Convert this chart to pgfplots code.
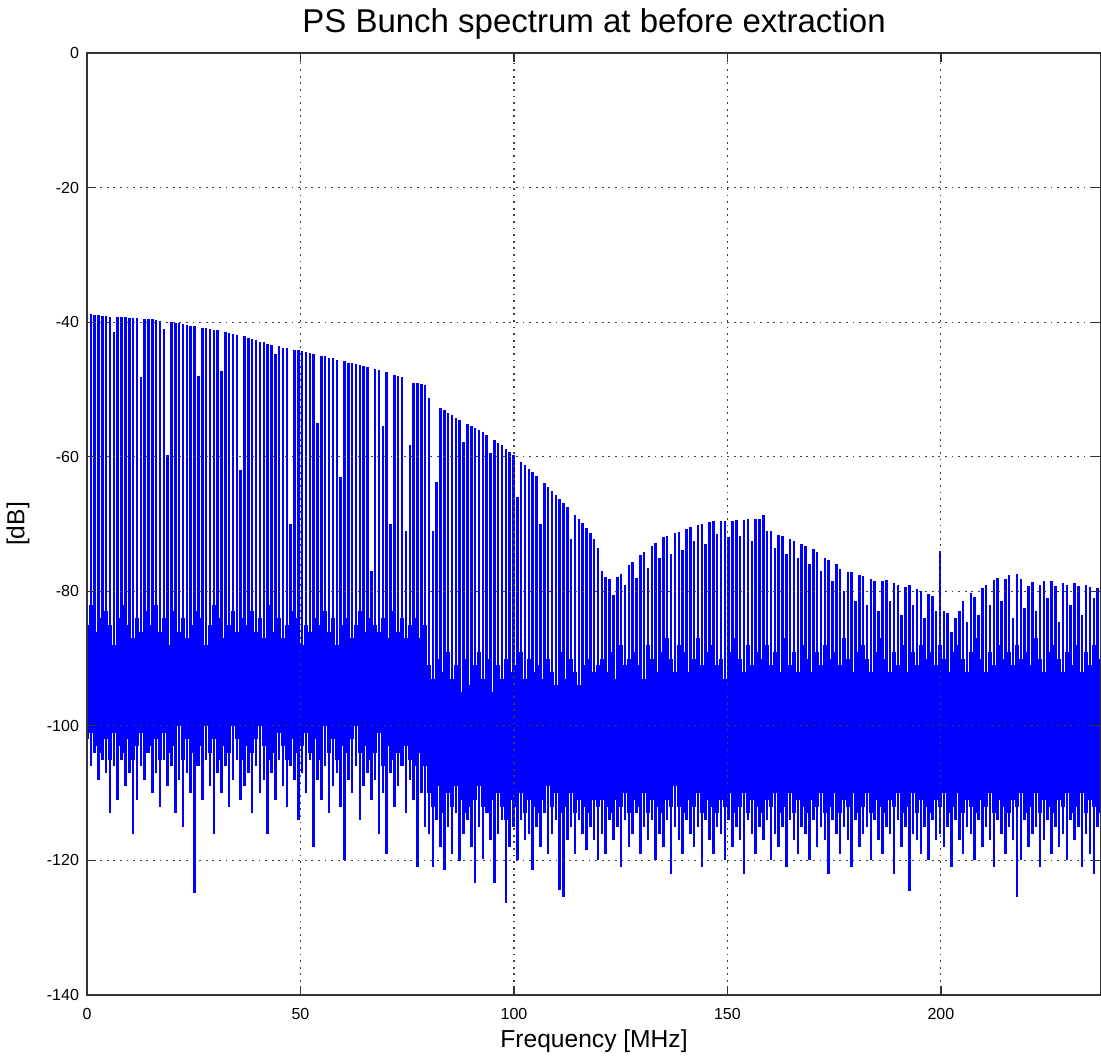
\documentclass[border=0pt]{standalone}
\usepackage{fontspec}
\setmainfont{Liberation Sans}
\usepackage{pgfplots}
\pgfplotsset{compat=1.18}
\usepackage{pgfplotstable}

% Harmonic lines of the bunch spectrum: frequency [MHz], line top (pk) and
% line foot (lo) in dB, plus the top (gt) and bottom (gb) of the noise floor
% around each line.
\pgfplotstableread{
x pk lo gt gb
0 -38.6 -103 -85 -102
0.9 -38.8 -106 -82 -101
1.8 -38.9 -104 -86 -103
2.7 -39.0 -108 -84 -100
3.6 -39.1 -105 -87 -104
4.5 -39.1 -107 -83 -102
5.4 -39.2 -113 -85 -105
6.3 -41.5 -106 -88 -101
7.2 -39.3 -111 -84 -103
8.1 -39.3 -105 -86 -100
9.0 -39.3 -109 -82 -104
9.9 -39.4 -107 -85 -102
10.8 -39.4 -116 -87 -105
11.7 -39.4 -111 -84 -103
12.6 -48.2 -106 -86 -101
13.5 -39.5 -108 -83 -104
14.4 -39.6 -104 -87 -100
15.3 -39.6 -110 -85 -103
16.2 -39.7 -107 -82 -102
17.1 -39.8 -112 -86 -105
18.0 -41.0 -105 -84 -101
18.9 -59.8 -109 -88 -104
19.8 -40.0 -106 -85 -102
20.7 -40.1 -113 -83 -103
21.6 -40.2 -108 -86 -100
22.5 -40.3 -115 -84 -105
23.4 -40.4 -107 -87 -102
24.3 -40.5 -110 -85 -104
25.2 -40.6 -124.8 -83 -106
26.1 -48.0 -106 -86 -101
27.0 -40.8 -111 -84 -103
27.9 -40.9 -105 -88 -100
28.8 -41.0 -109 -85 -104
29.7 -41.1 -116 -82 -102
30.6 -41.2 -107 -86 -105
31.5 -47.3 -110 -84 -101
32.4 -41.5 -106 -87 -103
33.3 -41.6 -112 -85 -104
34.2 -41.7 -108 -83 -100
35.1 -41.9 -105 -86 -102
36.0 -62.0 -111 -84 -105
36.9 -42.1 -109 -88 -103
37.8 -42.3 -107 -85 -101
38.7 -42.5 -113 -83 -104
39.6 -42.7 -106 -86 -102
40.5 -42.9 -110 -84 -100
41.4 -43.0 -108 -87 -103
42.3 -43.2 -116 -85 -105
43.2 -43.4 -107 -82 -102
44.1 -44.8 -111 -86 -104
45.0 -43.6 -105 -84 -101
45.9 -43.8 -109 -87 -103
46.8 -43.9 -112 -85 -105
47.7 -70.0 -106 -83 -100
48.6 -44.1 -108 -86 -102
49.5 -44.2 -114 -84 -104
50.4 -44.3 -107 -88 -103
51.3 -44.5 -110 -85 -101
52.2 -44.6 -105 -86 -104
53.1 -44.7 -118 -84 -102
54.0 -55.0 -108 -87 -105
54.9 -45.0 -111 -85 -103
55.8 -45.1 -106 -83 -100
56.7 -45.3 -113 -86 -104
57.6 -45.4 -109 -84 -102
58.5 -45.6 -107 -88 -105
59.4 -63.0 -112 -85 -101
60.3 -45.8 -120 -86 -103
61.2 -46.0 -108 -84 -104
62.1 -46.1 -110 -87 -102
63.0 -46.2 -106 -85 -100
63.9 -46.3 -114 -83 -104
64.8 -46.5 -109 -86 -103
65.7 -46.6 -107 -84 -105
66.6 -77.0 -111 -88 -102
67.5 -46.9 -108 -85 -104
68.4 -47.1 -116 -86 -101
69.3 -55.4 -110 -84 -106
70.2 -47.4 -119 -87 -103
71.1 -70.0 -107 -85 -105
72.0 -47.9 -112 -83 -102
72.9 -48.0 -109 -86 -104
73.8 -48.2 -106 -84 -106
74.7 -71.0 -113 -87 -103
75.6 -58.2 -108 -85 -105
76.5 -49.0 -111 -86 -104
77.4 -49.1 -121 -84 -106
78.3 -49.2 -110 -87 -104
79.2 -49.3 -115 -85 -106
80.1 -51.3 -116 -91 -110
81.0 -71.0 -121 -93 -112
81.9 -63.7 -114 -90 -109
82.8 -52.7 -118 -94 -111
83.7 -53.1 -121.4 -92 -113
84.6 -53.5 -115 -89 -110
85.5 -53.8 -119 -93 -112
86.4 -54.2 -113 -91 -109
87.3 -54.5 -120.1 -95 -111
88.2 -57.8 -116 -90 -113
89.1 -55.1 -114 -92 -110
90.0 -55.4 -118 -94 -112
90.9 -55.7 -123.3 -91 -111
91.8 -56.0 -115 -89 -109
92.7 -56.4 -119.8 -93 -112
93.6 -56.7 -113 -90 -110
94.5 -59.5 -117 -92 -113
95.4 -57.5 -123.3 -95 -111
96.3 -57.9 -116 -91 -110
97.2 -58.3 -114 -93 -112
98.1 -58.8 -126.3 -90 -114
99.0 -59.3 -118 -92 -111
99.9 -59.8 -115 -94 -109
100.8 -66.0 -120 -91 -112
101.7 -60.8 -114 -89 -110
102.6 -61.3 -117 -93 -113
103.5 -61.8 -116 -90 -111
104.4 -62.3 -121.4 -92 -112
105.3 -62.8 -115 -95 -110
106.2 -70.0 -118 -91 -113
107.1 -63.9 -113 -93 -111
108.0 -64.5 -119 -90 -109
108.9 -65.1 -116 -92 -112
109.8 -65.7 -114 -94 -110
110.7 -66.3 -124.4 -91 -113
111.6 -66.9 -125.4 -89 -111
112.5 -67.5 -117 -93 -112
113.4 -72.3 -115 -90 -110
114.3 -68.7 -119 -92 -113
115.2 -69.3 -114 -94 -111
116.1 -69.9 -116 -91 -112
117.0 -70.6 -118.4 -93 -110
117.9 -71.4 -115 -90 -113
118.8 -72.3 -117 -92 -111
119.7 -73.5 -120 -91 -112
120.6 -77.0 -116 -90 -111
121.5 -77.9 -119 -92 -112
122.4 -78.2 -114 -89 -110
123.3 -80.5 -117 -91 -113
124.2 -77.9 -115 -93 -111
125.1 -77.4 -121 -88 -112
126.0 -79.0 -114 -91 -110
126.9 -76.1 -118 -90 -113
127.8 -75.6 -116 -92 -111
128.7 -78.0 -113 -89 -109
129.6 -74.6 -119 -91 -112
130.5 -74.1 -115 -93 -110
131.4 -76.5 -117 -88 -113
132.3 -73.2 -114 -90 -111
133.2 -72.8 -120 -92 -112
134.1 -75.0 -116 -89 -110
135.0 -72.0 -118 -91 -113
135.9 -71.8 -114 -87 -111
136.8 -74.5 -122 -90 -112
137.7 -71.4 -115 -92 -109
138.6 -71.2 -117 -88 -112
139.5 -73.9 -119 -91 -110
140.4 -70.7 -114 -89 -113
141.3 -70.5 -116 -92 -111
142.2 -72.5 -118 -90 -112
143.1 -70.1 -115 -87 -110
144.0 -70.0 -121 -91 -113
144.9 -73.0 -114 -89 -111
145.8 -69.7 -117 -92 -112
146.7 -69.6 -119 -88 -110
147.6 -71.5 -115 -91 -113
148.5 -69.5 -116 -90 -111
149.4 -69.5 -120 -93 -112
150.3 -72.0 -114 -89 -110
151.2 -69.5 -118 -91 -113
152.1 -69.4 -115 -87 -111
153.0 -71.8 -117 -90 -112
153.9 -69.4 -122 -92 -110
154.8 -69.3 -114 -88 -113
155.7 -72.5 -116 -91 -111
156.6 -69.3 -119 -89 -112
157.5 -69.2 -115 -92 -110
158.4 -68.6 -117 -90 -113
159.3 -71.0 -114 -88 -111
160.2 -71.1 -120 -91 -112
161.1 -73.5 -116 -89 -110
162.0 -71.6 -118 -92 -113
162.9 -71.8 -115 -87 -111
163.8 -74.5 -121 -90 -112
164.7 -72.3 -114 -91 -110
165.6 -72.5 -117 -89 -113
166.5 -75.0 -119 -92 -111
167.4 -73.0 -115 -88 -112
168.3 -73.2 -116 -91 -110
169.2 -76.0 -120 -90 -113
170.1 -73.7 -114 -92 -111
171.0 -74.1 -118 -89 -112
171.9 -77.0 -115 -91 -110
172.8 -75.0 -117 -88 -113
173.7 -75.4 -122 -90 -111
174.6 -78.5 -114 -92 -112
175.5 -75.9 -116 -89 -110
176.4 -76.7 -119 -91 -113
177.3 -80.0 -115 -87 -111
178.2 -77.1 -117 -90 -112
179.1 -77.2 -121 -92 -110
180.0 -81.5 -114 -89 -113
180.9 -77.6 -118 -91 -111
181.8 -77.8 -116 -88 -112
182.7 -82.0 -115 -90 -110
183.6 -78.2 -120 -92 -113
184.5 -78.4 -114 -89 -111
185.4 -83.0 -117 -91 -112
186.3 -78.5 -119 -87 -110
187.2 -78.3 -115 -90 -113
188.1 -81.5 -116 -92 -111
189.0 -78.8 -122 -89 -112
189.9 -79.0 -114 -91 -110
190.8 -83.5 -118 -88 -113
191.7 -79.3 -115 -90 -111
192.6 -79.0 -124.5 -92 -112
193.5 -82.0 -116 -89 -110
194.4 -79.6 -117 -91 -113
195.3 -79.9 -119 -88 -111
196.2 -84.0 -115 -90 -112
197.1 -80.4 -120 -92 -110
198.0 -80.7 -114 -89 -113
198.9 -83.0 -117 -91 -111
199.8 -74.0 -116 -88 -112
200.7 -83.0 -118 -90 -110
201.6 -83.2 -115 -92 -113
202.5 -86.0 -121 -89 -111
203.4 -84.0 -114 -91 -112
204.3 -83.0 -117 -88 -110
205.2 -81.5 -119 -90 -113
206.1 -84.5 -115 -92 -111
207.0 -80.2 -116 -89 -112
207.9 -80.8 -120 -91 -110
208.8 -83.5 -114 -87 -113
209.7 -79.5 -118 -90 -111
210.6 -79.0 -115 -92 -112
211.5 -82.0 -117 -89 -110
212.4 -78.3 -121 -91 -113
213.3 -78.0 -114 -88 -111
214.2 -81.5 -116 -90 -112
215.1 -78.2 -119 -92 -110
216.0 -77.6 -115 -89 -113
216.9 -84.0 -117 -91 -111
217.8 -77.5 -125.5 -88 -112
218.7 -78.2 -120 -90 -110
219.6 -82.5 -114 -92 -113
220.5 -79.2 -118 -89 -111
221.4 -78.6 -116 -91 -112
222.3 -83.0 -115 -87 -110
223.2 -79.0 -121 -90 -113
224.1 -78.5 -117 -92 -111
225.0 -81.0 -114 -89 -112
225.9 -78.4 -119 -91 -110
226.8 -79.2 -115 -88 -113
227.7 -84.5 -118 -90 -111
228.6 -78.8 -116 -92 -112
229.5 -79.0 -120 -89 -110
230.4 -82.0 -114 -91 -113
231.3 -78.7 -117 -88 -111
232.2 -79.2 -115 -90 -112
233.1 -83.5 -121 -92 -110
234.0 -79.0 -116 -89 -113
234.9 -79.4 -119 -91 -111
235.8 -81.0 -122 -88 -112
236.7 -79.5 -115 -90 -110
237.6 -79.2 -117 -92 -113
}\spec

\begin{document}
\begin{tikzpicture}
\begin{axis}[
  name=ax,
  scale only axis,
  width=507pt, height=471pt,
  xmin=0, xmax=237.5, ymin=-140, ymax=0,
  xtick={0,50,100,150,200},
  ytick={-140,-120,-100,-80,-60,-40,-20,0},
  grid=major,
  major grid style={black!75, line width=0.55pt, dash pattern=on 0.9pt off 2.4pt},
  axis line style={black!80, line width=0.8pt},
  tick style={black!80, line width=0.6pt},
  major tick length=4.5pt,
  tick align=inside,
  axis on top,
  ticklabel style={font=\fontsize{8}{9}\selectfont},
  /pgf/number format/assume math mode=true,
  xticklabel style={yshift=-3pt},
  yticklabel style={xshift=-0.5pt},
  title={PS Bunch spectrum at before extraction},
  title style={font=\fontsize{16.5}{19}\selectfont, at={(axis description cs:0.5,1)}, anchor=base, yshift=4pt},
  xlabel={Frequency [MHz]},
  xlabel style={font=\fontsize{12.3}{14}\selectfont, at={(axis description cs:0.5,0)}, anchor=base, yshift=-26pt},
  ylabel={[dB]},
  ylabel style={font=\fontsize{12.3}{14}\selectfont, at={(axis description cs:-0.068,0.5)}, anchor=center},
]
% noise floor between the lines
\addplot[blue, line width=2pt, quiver={u=0, v=\thisrow{gt}-\thisrow{gb}}]
  table[x=x, y=gb] {\spec};
% harmonic lines
\addplot[blue, line width=1.25pt, quiver={u=0, v=\thisrow{pk}-\thisrow{lo}}]
  table[x=x, y=lo] {\spec};
\end{axis}
\pgfresetboundingbox
\path[use as bounding box] ([xshift=-43.5pt,yshift=-30.5pt]ax.south west) rectangle ([yshift=26.5pt]ax.north east);
\end{tikzpicture}
\end{document}
